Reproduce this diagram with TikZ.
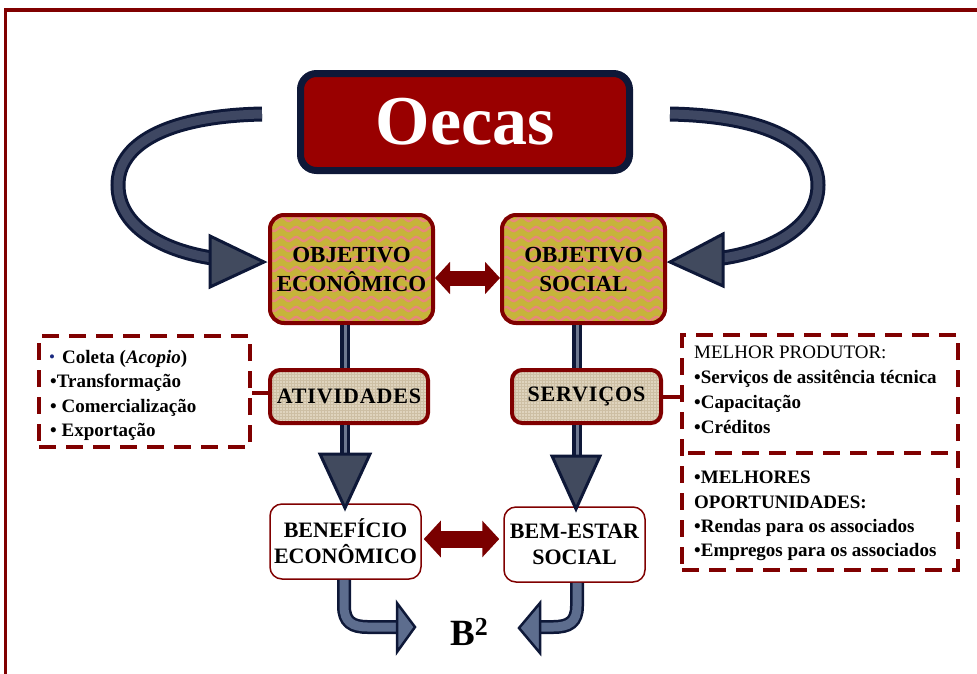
\documentclass[tikz,border=0pt]{standalone}
\usepackage{fontspec}
\setmainfont{Liberation Serif}
\usetikzlibrary{arrows.meta,calc}

\definecolor{navy}{HTML}{0E1838}
\definecolor{slate}{HTML}{414A5E}
\definecolor{ribbonin}{HTML}{3E4762}
\definecolor{ribbonlow}{HTML}{5D6D8E}
\definecolor{shaftin}{HTML}{6D7890}
\definecolor{framered}{HTML}{800000}
\definecolor{boxred}{HTML}{990000}
\definecolor{linkred}{HTML}{7A0000}
\definecolor{olivefill}{HTML}{C6B43A}
\definecolor{wavepink}{HTML}{E8887A}
\definecolor{burlap}{HTML}{DFD4BE}
\definecolor{weave}{HTML}{CDBFA4}
\definecolor{bulletblue}{HTML}{1A2A80}

\tikzset{
  objbox/.style={draw=framered, line width=4pt, rounded corners=14pt,
    minimum width=163pt, minimum height=108pt, inner sep=0pt, align=center,
    font=\fontsize{23}{29}\selectfont\bfseries},
  tagbox/.style={draw=framered, line width=4pt, rounded corners=10pt,
    minimum height=53pt, inner sep=0pt,
    font=\fontsize{22}{26}\selectfont\bfseries\addfontfeature{LetterSpace=4}},
  resultbox/.style={draw=framered, line width=1.5pt, rounded corners=12pt,
    fill=white, minimum height=75pt, inner sep=0pt, align=center,
    font=\fontsize{22}{26}\selectfont\bfseries},
  listbox/.style={draw=framered, line width=4pt, dash pattern=on 17pt off 10pt},
  listtext/.style={anchor=base west, inner sep=0pt,
    font=\fontsize{19}{23}\selectfont\bfseries},
  linkline/.style={draw=framered, line width=4pt},
  twoway/.style={draw=linkred, line width=#1,
    {Triangle[width=2.1*#1,length=1.0*#1]}-{Triangle[width=2.1*#1,length=1.0*#1]}},
  loopribbon/.style={draw=navy, line width=3pt, double=ribbonin, double distance=9pt},
  lowribbon/.style={draw=navy, line width=2.5pt, double=ribbonlow, double distance=9pt},
  shaft/.style={draw=navy, line width=3.5pt, double=shaftin, double distance=3pt},
  headtop/.style={draw=navy, line width=3pt, fill=slate, line join=miter},
  headdown/.style={draw=navy, line width=3pt, fill=slate, line join=miter},
  headlow/.style={draw=navy, line width=2.5pt, fill=ribbonlow, line join=miter},
}

\begin{document}
\begin{tikzpicture}[x=1pt, y=-1pt]
\useasboundingbox (0,0) rectangle (977,673);
\clip (0,0) rectangle (977,673);

% outer frame
\draw[framered, line width=3.5pt] (5.5,10) rectangle (990,690);

% title
\node[draw=navy, line width=7pt, fill=boxred, rounded corners=16pt,
      minimum width=329pt, minimum height=97pt, inner sep=0pt, text=white,
      font=\fontsize{70}{72}\selectfont\bfseries] (oecas) at (465,122) {Oecas};

% textured backgrounds of the two objective boxes
\foreach \cx in {351.5,583.5}{
  \begin{scope}
    \clip[rounded corners=13pt] (\cx-81.5,215) rectangle (\cx+81.5,323);
    \fill[olivefill] (\cx-82,214) rectangle (\cx+82,324);
    \foreach \yy in {219,229,...,319}
      \draw[wavepink, line width=2.2pt]
        plot[domain=\cx-84:\cx+84, samples=70, smooth] (\x,{\yy+2.2*sin(24*\x)});
  \end{scope}
}
\node[objbox] (objeco) at (351.5,269) {OBJETIVO\\ECONÔMICO};
\node[objbox] (objsoc) at (583.5,269) {OBJETIVO\\SOCIAL};

% burlap backgrounds of activity / service tags
\foreach \xa/\xb in {270/428, 512/661}{
  \begin{scope}
    \clip[rounded corners=9pt] (\xa,370) rectangle (\xb,423);
    \fill[burlap] (\xa,370) rectangle (\xb,423);
    \foreach \xx in {\xa,\the\numexpr\xa+3\relax,...,\xb}
      \draw[weave, line width=0.7pt] (\xx,370) -- (\xx,423);
    \foreach \yy in {371,374,...,423}
      \draw[weave, line width=0.6pt] (\xa,\yy) -- (\xb,\yy);
  \end{scope}
}
\node[tagbox, minimum width=158pt] (ativ) at (349,396.5) {ATIVIDADES};
\node[tagbox, minimum width=149pt] (serv) at (586.5,396.5) {SERVIÇOS};

% results
\node[resultbox, minimum width=151pt] (benef) at (345.5,541.5) {BENEFÍCIO\\ECONÔMICO};
\node[resultbox, minimum width=141pt] (bemest) at (574.5,544.5) {BEM-ESTAR\\SOCIAL};

\node[anchor=base west, inner sep=0pt, font=\fontsize{37}{40}\selectfont\bfseries]
  (btwo) at (450,645) {B\textsuperscript{2}};

% two-way links
\draw[twoway=15pt] ([yshift=-9pt]objeco.east) -- ([yshift=-9pt]objsoc.west);
\draw[twoway=17pt, shorten <=2pt, shorten >=4pt]
  ([yshift=2.5pt]benef.east) -- ([yshift=2.5pt]benef.east -| bemest.west);

% looping arrows from the title
\coordinate (loopLs) at (262,114);
\coordinate (loopLe) at (212,258);
\coordinate (loopRs) at (670,114);
\coordinate (loopRe) at (723,258);
\draw[loopribbon] (loopLs) .. controls (165,116) and (118,145) .. (118,185)
  .. controls (118,225) and (160,250) .. (loopLe);
\draw[headtop] (210,236) -- (264,262) -- (210,287) -- cycle;
\draw[loopribbon] (loopRs) .. controls (770,116) and (818,145) .. (818,185)
  .. controls (818,225) and (775,250) .. (loopRe);
\draw[headtop] (723,234) -- (670,262) -- (723,286) -- cycle;

% vertical flow
\coordinate (colL) at (345,0);
\coordinate (colR) at (577,0);
\coordinate (downL) at (345,456);
\coordinate (downR) at (577,458);
\draw[shaft] (objeco.south -| colL) -- (ativ.north -| colL);
\draw[shaft] (ativ.south -| colL) -- (downL);
\draw[headdown] (320,454) -- (370,454) -- (345,508) -- cycle;
\draw[shaft] (objsoc.south -| colR) -- (serv.north -| colR);
\draw[shaft] (serv.south -| colR) -- (downR);
\draw[headdown] (552,456) -- (600,456) -- (576,509) -- cycle;

% lower arrows into B2
\coordinate (lowL) at (344,0);
\coordinate (lowR) at (577,0);
\draw[lowribbon] (benef.south -| lowL) -- (344,606)
  .. controls (344,622) and (352,627) .. (368,627) -- (399,627);
\draw[headlow] (397,603) -- (415,627) -- (397,652) -- cycle;
\draw[lowribbon] (bemest.south -| lowR) -- (577,606)
  .. controls (577,622) and (569,627) .. (553,627) -- (538,627);
\draw[headlow] (540,603) -- (519,628) -- (540,653) -- cycle;

% activity list
\node[listbox, minimum width=211pt, minimum height=111pt, inner sep=0pt] (listL) at (144.5,391.5) {};
\draw[linkline] ([yshift=4pt]ativ.west -| listL.east) -- ([yshift=4pt]ativ.west);
\node[listtext, text=bulletblue, font=\fontsize{17}{17}\selectfont] (bl1) at (49,362) {•};
\node[listtext] (l1) at (62,363) {Coleta (\textit{Acopio})};
\node[listtext] (l2) at (50,387) {•Transformação};
\node[listtext] (l3) at (50,412) {• Comercialização};
\node[listtext] (l4) at (50,436) {• Exportação};

% service list
\node[listbox, minimum width=276pt, minimum height=235pt, inner sep=0pt] (listR) at (820,452.5) {};
\draw[listbox] ($(listR.west)+(8,0)$) -- ($(listR.east)+(-8,0)$);
\draw[linkline] (serv.east) -- (serv.east -| listR.west);
\node[listtext, font=\fontsize{19}{23}\selectfont] (r1) at (694,358) {MELHOR PRODUTOR:};
\node[listtext] (r2) at (694,383) {•Serviços de assitência técnica};
\node[listtext] (r3) at (694,408) {•Capacitação};
\node[listtext] (r4) at (694,433) {•Créditos};
\node[listtext] (r5) at (694,483) {•MELHORES};
\node[listtext] (r6) at (694,508) {OPORTUNIDADES:};
\node[listtext] (r7) at (694,532) {•Rendas para os associados};
\node[listtext] (r8) at (694,556) {•Empregos para os associados};
\end{tikzpicture}
\end{document}
